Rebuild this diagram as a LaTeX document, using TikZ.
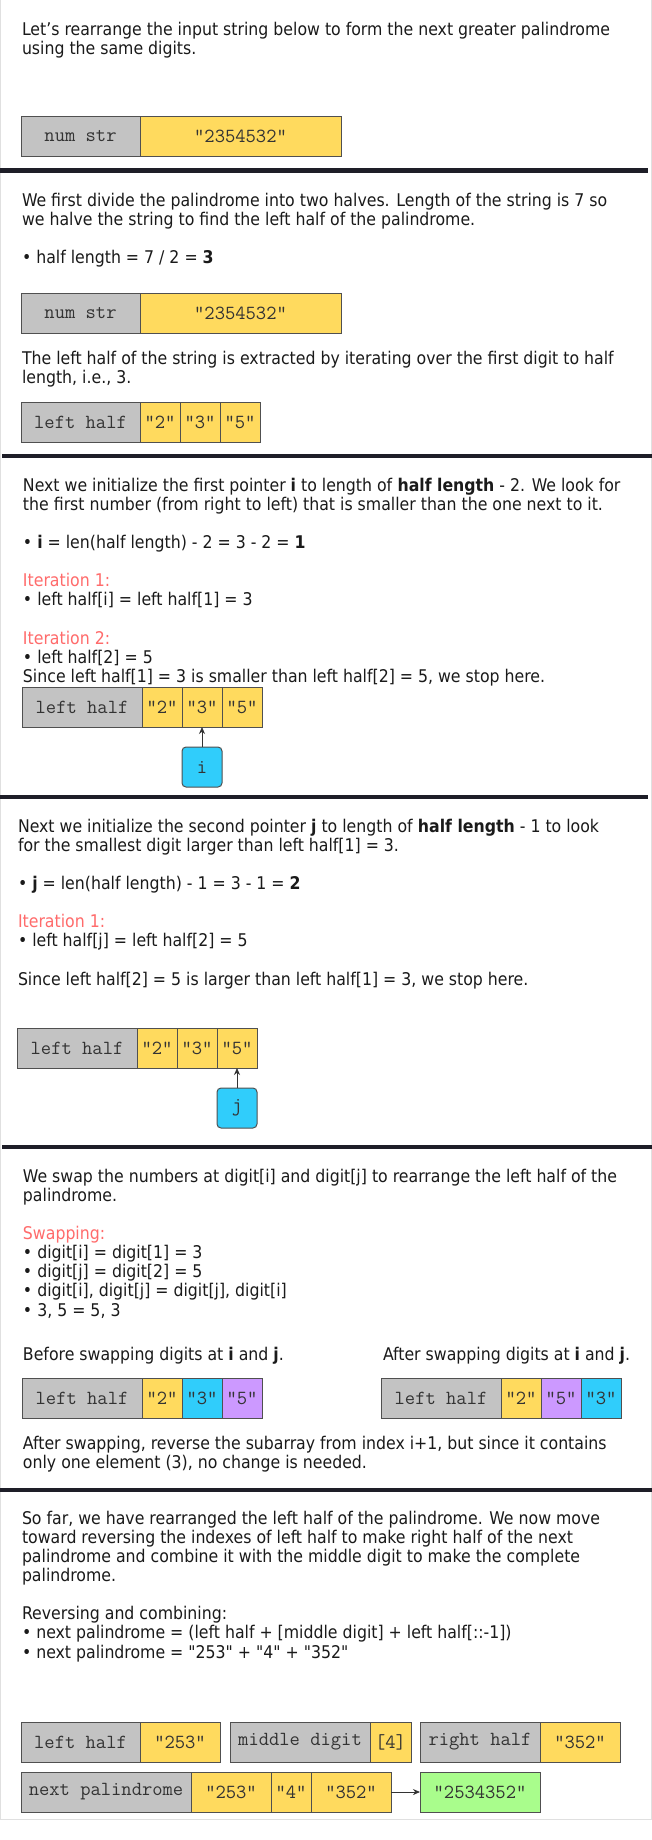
\documentclass[tikz,border=0pt]{standalone}
\usepackage{fontspec}
\setmainfont{DejaVu Sans Condensed}[Ligatures=TeXOff]
\usetikzlibrary{arrows.meta,positioning}

\definecolor{cellgray}{HTML}{C3C3C3}
\definecolor{cellyellow}{HTML}{FFDA5E}
\definecolor{cellcyan}{HTML}{30CDFB}
\definecolor{cellpurple}{HTML}{CC99FF}
\definecolor{cellgreen}{HTML}{A9FD8C}
\definecolor{iterred}{HTML}{FF6B6B}
\definecolor{barblack}{HTML}{1E1E28}
\definecolor{edgegray}{HTML}{505050}
\definecolor{inkblack}{HTML}{1A1A1A}

\begin{document}
\begin{tikzpicture}[
  x=1pt, y=-1pt,
  every node/.style={inner sep=0pt, outer sep=0pt},
  txt/.style={anchor=north west, align=left, text=inkblack,
              font=\fontsize{17.5}{19.1}\selectfont},
  cell/.style={rectangle, draw=edgegray, line width=1pt, minimum height=40pt,
               font=\fontsize{20}{20}\ttfamily, text=black!80},
  lbl/.style={cell, fill=cellgray, minimum width=119pt},
  val/.style={cell, fill=cellyellow, minimum width=80pt},
  dig/.style={cell, fill=cellyellow, minimum width=40pt},
  ptr/.style={rectangle, draw=edgegray, line width=1pt, rounded corners=4pt,
              fill=cellcyan, minimum width=40pt, minimum height=40pt,
              font=\fontsize{20}{20}\ttfamily, text=black!80},
  bar/.style={fill=barblack},
  frame/.style={draw=black!12, line width=1pt},
  arrow/.style={-{Stealth[length=7pt,width=6pt]}, line width=0.8pt, draw=black!80}
]
  \useasboundingbox[fill=white] (0,0) rectangle (652,1840);
  \draw[frame] (0.5,0) -- (0.5,1819) -- (651.5,1819) -- (651.5,0);

  % panel separators
  \fill[bar] (0,168) rectangle (648,173);
  \fill[bar] (2,454) rectangle (652,458);
  \fill[bar] (0,795) rectangle (648,799);
  \fill[bar] (2,1145) rectangle (652,1149);
  \fill[bar] (0,1488) rectangle (652,1492);

  % 1: input
  \node[txt, font=\fontsize{17.5}{18}\selectfont] (intro) at (22,22)
    {\strut Let’s rearrange the input string below to form the next greater palindrome\\
     using the same digits.};
  \node[lbl, anchor=north west] (num1) at (21,116) {num str};
  \node[cell, fill=cellyellow, minimum width=201pt, right=0pt of num1] (str1) {"2354532"};

  % 2: halves
  \node[txt] (halves) at (22,193)
    {\strut We first divide the palindrome into two halves. Length of the string is 7 so\\
     we halve the string to find the left half of the palindrome.\\ \\
     • half length = 7 / 2 = \textbf{3}};
  \node[lbl, anchor=north west] (num2) at (21,293) {num str};
  \node[cell, fill=cellyellow, minimum width=201pt, right=0pt of num2] (str2) {"2354532"};
  \node[txt] (extract) at (22,351)
    {\strut The left half of the string is extracted by iterating over the first digit to half\\
     length, i.e., 3.};
  \node[lbl, anchor=north west] (lh2) at (21,402) {left half};
  \node[dig, right=0pt of lh2] (lh2a) {"2"};
  \node[dig, right=0pt of lh2a] (lh2b) {"3"};
  \node[dig, right=0pt of lh2b] (lh2c) {"5"};

  % 3: pointer i
  \node[txt] (findi) at (23,478)
    {\strut Next we initialize the first pointer \textbf{i} to length of \textbf{half length} - 2. We look for\\
     the first number (from right to left) that is smaller than the one next to it.\\ \\
     • \textbf{i} = len(half length) - 2 = 3 - 2 = \textbf{1}\\ \\
     {\color{iterred}Iteration 1:}\\
     • left half[i] = left half[1] = 3\\ \\
     {\color{iterred}Iteration 2:}\\
     • left half[2] = 5\\
     Since left half[1] = 3 is smaller than left half[2] = 5, we stop here.};
  \node[lbl, anchor=north west, minimum width=120pt] (lh3) at (22,687) {left half};
  \node[dig, right=0pt of lh3] (lh3a) {"2"};
  \node[dig, right=0pt of lh3a] (lh3b) {"3"};
  \node[dig, right=0pt of lh3b] (lh3c) {"5"};
  \node[ptr, below=20pt of lh3b] (ptri) {i};
  \draw[arrow] (ptri) -- (lh3b);

  % 4: pointer j
  \node[txt] (findj) at (18,819)
    {\strut Next we initialize the second pointer \textbf{j} to length of \textbf{half length} - 1 to look\\
     for the smallest digit larger than left half[1] = 3.\\ \\
     • \textbf{j} = len(half length) - 1 = 3 - 1 = \textbf{2}\\ \\
     {\color{iterred}Iteration 1:}\\
     • left half[j] = left half[2] = 5\\ \\
     Since left half[2] = 5 is larger than left half[1] = 3, we stop here.};
  \node[lbl, anchor=north west, minimum width=120pt] (lh4) at (17,1028) {left half};
  \node[dig, right=0pt of lh4] (lh4a) {"2"};
  \node[dig, right=0pt of lh4a] (lh4b) {"3"};
  \node[dig, right=0pt of lh4b] (lh4c) {"5"};
  \node[ptr, below=20pt of lh4c] (ptrj) {j};
  \draw[arrow] (ptrj) -- (lh4c);

  % 5: swap
  \node[txt] (swap) at (23,1169)
    {\strut We swap the numbers at digit[i] and digit[j] to rearrange the left half of the\\
     palindrome.\\ \\
     {\color{iterred}Swapping:}\\
     • digit[i] = digit[1] = 3\\
     • digit[j] = digit[2] = 5\\
     • digit[i], digit[j] = digit[j], digit[i]\\
     • 3, 5 = 5, 3};
  \node[txt] (before) at (23,1347) {\strut Before swapping digits at \textbf{i} and \textbf{j}.};
  \node[txt] (after) at (383,1347) {\strut After swapping digits at \textbf{i} and \textbf{j}.};
  \node[lbl, anchor=north west, minimum width=120pt] (lh5) at (22,1378) {left half};
  \node[dig, right=0pt of lh5] (lh5a) {"2"};
  \node[dig, fill=cellcyan, right=0pt of lh5a] (lh5b) {"3"};
  \node[dig, fill=cellpurple, right=0pt of lh5b] (lh5c) {"5"};
  \node[lbl, anchor=north west, minimum width=120pt] (lh6) at (381,1378) {left half};
  \node[dig, right=0pt of lh6] (lh6a) {"2"};
  \node[dig, fill=cellpurple, right=0pt of lh6a] (lh6b) {"5"};
  \node[dig, fill=cellcyan, right=0pt of lh6b] (lh6c) {"3"};
  \node[txt] (reverse) at (23,1436)
    {\strut After swapping, reverse the subarray from index i+1, but since it contains\\
     only one element (3), no change is needed.};

  % 6: combine
  \node[txt] (combine) at (22,1511)
    {\strut So far, we have rearranged the left half of the palindrome. We now move\\
     toward reversing the indexes of left half to make right half of the next\\
     palindrome and combine it with the middle digit to make the complete\\
     palindrome.\\ \\
     Reversing and combining:\\
     • next palindrome = (left half + [middle digit] + left half[::-1])\\
     • next palindrome = "253" + "4" + "352"};
  \node[lbl, anchor=north west] (left) at (21,1722) {left half};
  \node[val, right=0pt of left] (leftv) {"253"};
  \node[lbl, minimum width=140pt, right=10pt of leftv] (mid) {middle digit};
  \node[dig, minimum width=41pt, right=0pt of mid] (midv) {[4]};
  \node[lbl, minimum width=120pt, right=9pt of midv] (right) {right half};
  \node[val, right=0pt of right] (rightv) {"352"};
  \node[lbl, anchor=north west, minimum width=170pt] (next) at (21,1772) {next palindrome};
  \node[val, right=0pt of next] (nexta) {"253"};
  \node[dig, right=0pt of nexta] (nextb) {"4"};
  \node[val, right=0pt of nextb] (nextc) {"352"};
  \node[cell, fill=cellgreen, minimum width=120pt, right=29pt of nextc] (result) {"2534352"};
  \draw[arrow] (nextc) -- (result);
\end{tikzpicture}
\end{document}
